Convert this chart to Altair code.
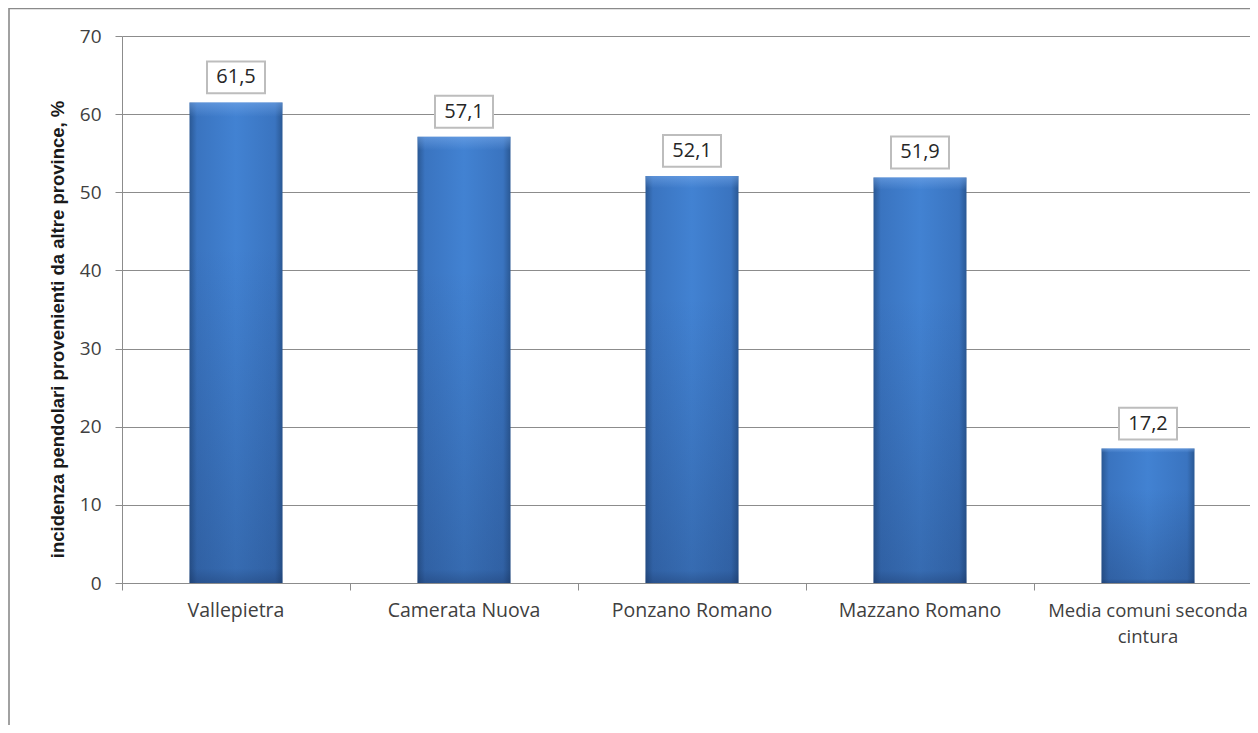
import altair as alt
import pandas as pd

categories = ["Vallepietra", "Camerata Nuova", "Ponzano Romano", "Mazzano Romano",
              "Media comuni seconda cintura"]
values = [61.5, 57.1, 52.1, 51.9, 17.2]
value_labels = ["61,5", "57,1", "52,1", "51,9", "17,2"]
y_ticks = [0, 10, 20, 30, 40, 50, 60, 70]
y_title = "incidenza pendolari provenienti da altre province, %"

df = pd.DataFrame({"cat": categories, "val": values, "lab": value_labels})

FONT = "Open Sans"
GRID = "#8c8c8c"

x_enc = alt.X(
    "cat:N", sort=categories,
    scale=alt.Scale(paddingInner=0, paddingOuter=0, range=[0, 1140]),
    axis=alt.Axis(
        title=None, labelAngle=0, bandPosition=0, tickSize=7, tickColor=GRID,
        domainColor=GRID, labelFont=FONT,
        labelFontSize={"condition": {"test": "datum.value == 'Media comuni seconda cintura'",
                                     "value": 18.5}, "value": 19.5},
        labelColor="#404040",
        labelPadding=11, labelOverlap=False, labelLimit=400, grid=False,
        labelLineHeight=26,
        labelExpr="datum.label == 'Media comuni seconda cintura' ? ['Media comuni seconda', 'cintura'] : datum.label",
    ),
)
y_enc = alt.Y(
    "val:Q",
    scale=alt.Scale(domain=[0, 70], nice=False),
    axis=alt.Axis(
        values=y_ticks, title=y_title, tickSize=7, tickColor=GRID, domainColor=GRID,
        gridColor=GRID, labelFont=FONT, labelFontSize=19, labelColor="#404040",
        labelPadding=14, titleFont="Liberation Sans", titleFontSize=18.5,
        titleFontWeight="bold", titleColor="#1a1a1a", titleAngle=-90,
        titleX=-59, titleY=293, titleAlign="center", titleBaseline="alphabetic",
    ),
)

h_grad = alt.Gradient(
    gradient="linear", x1=0, x2=1, y1=0, y2=0,
    stops=[
        alt.GradientStop(color="#2a5894", offset=0),
        alt.GradientStop(color="#3a74c0", offset=0.08),
        alt.GradientStop(color="#4282d2", offset=0.5),
        alt.GradientStop(color="#3a74c0", offset=0.92),
        alt.GradientStop(color="#2a5894", offset=1),
    ],
)
v_grad = alt.Gradient(
    gradient="linear", x1=0, x2=0, y1=0, y2=1,
    stops=[
        alt.GradientStop(color="rgba(120,170,235,0.55)", offset=0),
        alt.GradientStop(color="rgba(120,170,235,0.0)", offset=0.03),
        alt.GradientStop(color="rgba(20,40,80,0.0)", offset=0.3),
        alt.GradientStop(color="rgba(20,40,80,0.25)", offset=0.97),
        alt.GradientStop(color="rgba(20,40,80,0.45)", offset=1),
    ],
)

base = alt.Chart(df).encode(x=x_enc, y=y_enc)
bars = base.mark_bar(width=93, color=h_grad)
bars_shade = base.mark_bar(width=93, color=v_grad)

box = base.mark_point(
    shape="M-1,-0.55L1,-0.55L1,0.55L-1,0.55Z", size=58 * 58, filled=True,
    fill="white", stroke="#bdbdbd", strokeWidth=2, opacity=1, yOffset=-25,
)
txt = base.mark_text(
    font=FONT, fontSize=20, color="#262626", yOffset=-25, baseline="middle",
).encode(text="lab:N")

border_df = pd.DataFrame({"k": [0]})
left_border = alt.Chart(border_df).mark_rule(color="#8a8a8a", strokeWidth=1.6).encode(
    x=alt.value(-113), y=alt.value(-28), y2=alt.value(720)
)
top_border = alt.Chart(border_df).mark_rule(color="#8a8a8a", strokeWidth=1.6).encode(
    x=alt.value(-113), x2=alt.value(1200), y=alt.value(-27.5)
)

chart = alt.layer(bars, bars_shade, box, txt, left_border, top_border).properties(
    width=1128, height=547,
    autosize=alt.AutoSizeParams(type="none"),
    padding={"left": 114, "top": 28, "right": 0, "bottom": 142},
).configure_view(stroke=None).configure_axis(gridWidth=1, domainWidth=1, tickWidth=1)

chart.save("out.html", embed_options={"renderer": "svg", "actions": False})
